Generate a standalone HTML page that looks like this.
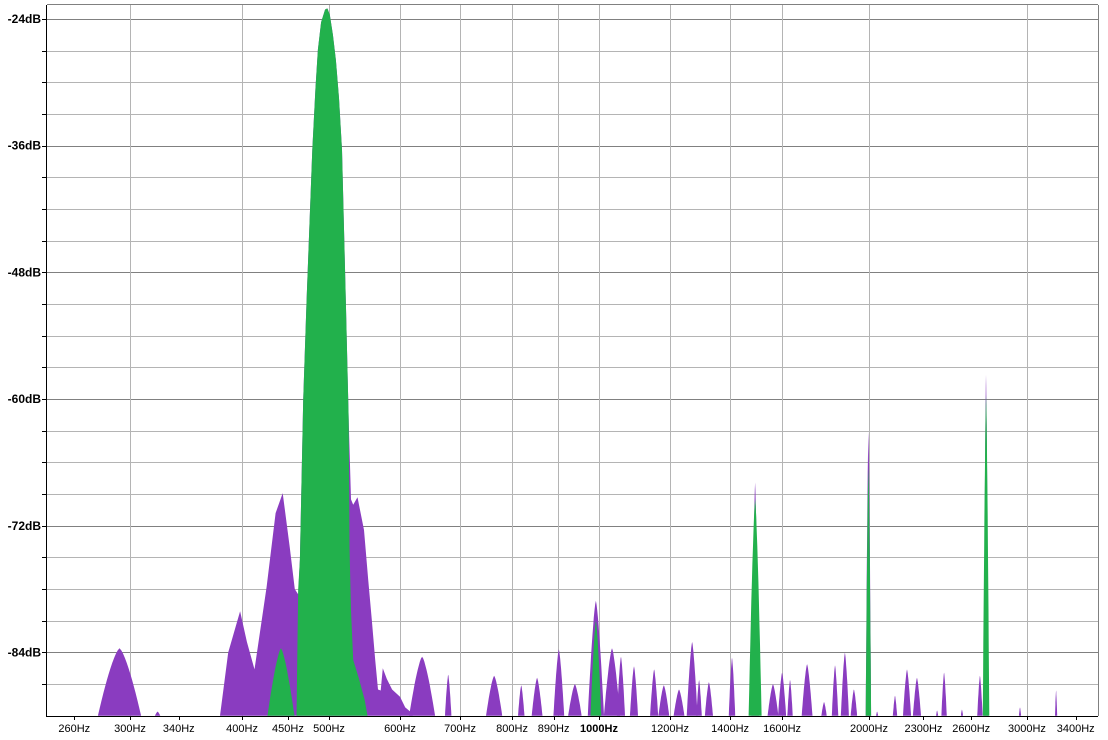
<!DOCTYPE html>
<html><head><meta charset="utf-8"><style>
body{margin:0;background:#fff;}
svg{display:block;font-family:"Liberation Sans",Arial,sans-serif;}
</style></head><body>
<svg id="chart" width="1108" height="740"></svg>
<script>
// ---- data ----
const yTicks=[-24,-36,-48,-60,-72,-84];
const xTickFreqs=[260,300,340,400,450,500,600,700,800,890,1000,1200,1400,1600,2000,2300,2600,3000,3400];
const xTickLabels=["260Hz","300Hz","340Hz","400Hz","450Hz","500Hz","600Hz","700Hz","800Hz","890Hz","1000Hz","1200Hz","1400Hz","1600Hz","2000Hz","2300Hz","2600Hz","3000Hz","3400Hz"];
const xGridFreqs=[300,400,500,600,700,800,900,1000,1200,1400,1600,2000,3000];
// main purple contour (Hz, dB)
const purpleMainFreq=[378,386,398,405,413,426,436,444,452,458,462,464,468,472,479,483,486,490,495,498,501,505,509,513,517,522,526,529,532,538,547,553,558,563,567,571,574,580,588,600,608,616,620];
const purpleMainDb=[-90,-84,-80.1,-83,-85.6,-77.8,-70.8,-68.9,-74,-78,-78.5,-75.2,-60.1,-50.6,-36.4,-30.5,-26.9,-24.3,-23.1,-23.0,-23.6,-25.5,-27.9,-31.5,-36.4,-50.6,-62,-69.5,-70,-69.3,-72.4,-77.1,-80.9,-84.7,-87.5,-87.6,-85.5,-86.5,-87.5,-88.2,-89.2,-89.6,-90];
// main green contour
const greenMainFreq=[460,462,464,468,472,479,483,486,490,495,498,501,505,509,513,517,522,526,527,529,532,540,548,552];
const greenMainDb=[-90,-78,-75.2,-60.1,-50.6,-36.4,-30.5,-26.9,-24.3,-23.1,-23.0,-23.6,-25.5,-27.9,-31.5,-36.4,-50.6,-62,-74,-80,-84.7,-86.5,-88.5,-90];
// isolated purple peaks
const purplePeakFreq=[292,322,635,679,764,819,853,902,940,992,1034,1058,1094,1152,1181,1228,1270,1293,1326,1407,1493,1563,1600,1633,1706,1782,1833,1880,1924,1997,2042,2138,2205,2262,2382,2425,2539,2659,2701,2947,3233];
const purplePeakDb=[-83.6,-89.6,-84.4,-86.1,-86.2,-87.1,-86.4,-83.7,-87.0,-79.1,-83.6,-84.4,-85.3,-85.6,-87.1,-87.5,-83.0,-86.6,-86.8,-84.5,-67.9,-87.0,-85.9,-86.6,-85.1,-88.7,-85.2,-84.0,-87.5,-63.1,-89.6,-88.1,-85.6,-86.4,-89.5,-85.9,-89.4,-86.2,-57.7,-89.2,-87.6];
const purplePeakWidth=[0.08,0.01,0.048,0.012,0.03,0.012,0.02,0.02,0.025,0.03,0.03,0.015,0.015,0.015,0.02,0.02,0.02,0.01,0.015,0.012,0.014,0.02,0.015,0.01,0.02,0.01,0.012,0.015,0.012,0.01,0.004,0.008,0.015,0.015,0.004,0.01,0.004,0.01,0.009,0.004,0.004];
// isolated green peaks
const greenPeakFreq=[442,992,1493,1997,2701];
const greenPeakDb=[-83.6,-81.0,-69.5,-66.5,-59.6];
const greenPeakWidth=[0.05,0.02,0.024,0.01,0.012];

// ---- axes ----
const L=47,R=1098,T=5,B=716;
const X=f=>599+270*Math.log2(f/1000);
const Y=db=>19+(-24-db)*10.5583;
const NS="http://www.w3.org/2000/svg";
const svg=document.getElementById('chart');
function mk(tag,attrs,parent){const e=document.createElementNS(NS,tag);for(const k in attrs)e.setAttribute(k,attrs[k]);(parent||svg).appendChild(e);return e;}

const grid=mk('g',{});


for(let db=-24;db>=-87;db-=3){
  const y=Math.round(Y(db))+0.5;
  const major=yTicks.includes(db);
  const ln=mk('line',{x1:L,x2:R,y1:y,y2:y,stroke:major?'#808080':'#b4b4b4','stroke-width':1},grid);
  
  
  const tk=mk('line',{x1:L-5,x2:L,y1:y,y2:y,stroke:'#000'},grid);
  
  
}
xGridFreqs.forEach(f=>{
  const x=Math.round(X(f))+0.5;
  const ln=mk('line',{x1:x,x2:x,y1:T,y2:B,stroke:'#b4b4b4'},grid);
  
  
});

function polyFromContour(fs,dbs){
  let pts=[];
  for(let i=0;i<fs.length;i++)pts.push(X(fs[i]).toFixed(1)+','+Math.min(B,Y(dbs[i])).toFixed(1));
  return pts.join(' ');
}
function polyFromPeak(fp,db,hw){
  const pts=[];const n=24;
  for(let i=0;i<=n;i++){
    const t=-1+2*i/n;
    const g=Math.max(0,1-Math.pow(Math.abs(t),1.4));
    const d=-90+(db+90)*g;
    pts.push(X(fp*Math.pow(2,t*hw)).toFixed(1)+','+Y(d).toFixed(1));
  }
  return pts.join(' ');
}
const purple='#8a3cc0',green='#22b14c';
const pm=mk('polygon',{points:polyFromContour(purpleMainFreq,purpleMainDb),fill:purple});


purplePeakFreq.forEach((f,i)=>{
  const p=mk('polygon',{points:polyFromPeak(f,purplePeakDb[i],purplePeakWidth[i]),fill:purple});
  
  
});
const gm=mk('polygon',{points:polyFromContour(greenMainFreq,greenMainDb),fill:green});


greenPeakFreq.forEach((f,i)=>{
  const p=mk('polygon',{points:polyFromPeak(f,greenPeakDb[i],greenPeakWidth[i]),fill:green});
  
  
});

// frame
const fr=mk('g',{});


mk('line',{x1:L-0.5,x2:L-0.5,y1:T,y2:B+1,stroke:'#000'},fr);
mk('line',{x1:L,x2:R,y1:B+0.5,y2:B+0.5,stroke:'#000'},fr);
mk('line',{x1:L,x2:R,y1:T-0.5,y2:T-0.5,stroke:'#808080'},fr);
mk('line',{x1:R+0.5,x2:R+0.5,y1:T,y2:B,stroke:'#808080'},fr);

// labels
yTicks.forEach(db=>{
  const t=mk('text',{x:L-6,y:Y(db)+4,'text-anchor':'end','font-size':12,'font-weight':'bold',fill:'#000'});
  t.textContent=db+'dB';
  
  
});
xTickFreqs.forEach((f,i)=>{
  const x=Math.round(X(f))+0.5;
  const tk=mk('line',{x1:x,x2:x,y1:B,y2:B+4,stroke:'#000'});
  
  
  const t=mk('text',{x:X(f),y:732,'text-anchor':'middle','font-size':11,fill:'#000','font-weight':f===1000?'bold':'normal'});
  t.textContent=xTickLabels[i];
  
  
});
</script>
</body></html>
